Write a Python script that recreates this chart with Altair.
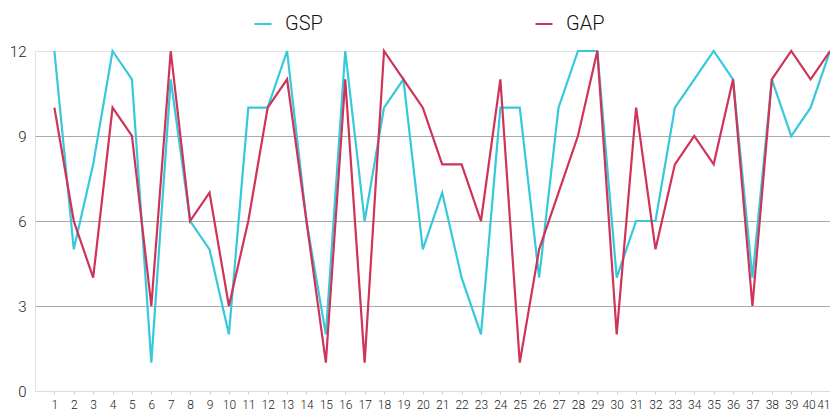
import altair as alt
import pandas as pd

points = list(range(1, 42))
gsp = [12, 5, 8, 12, 11, 1, 11, 6, 5, 2, 10, 10, 12, 6, 2, 12, 6, 10, 11, 5,
       7, 4, 2, 10, 10, 4, 10, 12, 12, 4, 6, 6, 10, 11, 12, 11, 4, 11, 9, 10, 12]
gap = [10, 6, 4, 10, 9, 3, 12, 6, 7, 3, 6, 10, 11, 6, 1, 11, 1, 12, 11, 10,
       8, 8, 6, 11, 1, 5, 7, 9, 12, 2, 10, 5, 8, 9, 8, 11, 3, 11, 12, 11, 12]
series = ["GSP", "GAP"]
colors = ["#36c8db", "#cf3358"]
y_ticks = [0, 3, 6, 9, 12]

rows = []
for name, vals in zip(series, [gsp, gap]):
    for p, v in zip(points, vals):
        rows.append({"x": p, "value": v, "series": name})
df = pd.DataFrame(rows)

font = "Roboto"

chart = alt.Chart(df).mark_line(strokeWidth=2.2).encode(
    x=alt.X("x:Q", scale=alt.Scale(domain=[0, 41], nice=False, zero=False),
            axis=alt.Axis(values=points, title=None, grid=False, labelFontSize=12,
                          labelFont=font, labelFontWeight=300, labelColor="#222",
                          tickSize=3, tickColor="#ccc", domainColor="#ddd",
                          labelPadding=5, labelFlush=True, labelOverlap=False,
                          labelOffset=alt.condition("datum.value == 40",
                                                    alt.value(-2), alt.value(0)))),
    y=alt.Y("value:Q", scale=alt.Scale(domain=[0, 12], nice=False),
            axis=alt.Axis(values=y_ticks, title=None, labelFontSize=15,
                          labelFont=font, labelFontWeight=300, labelColor="#222",
                          ticks=False, domain=False, labelPadding=9,
                          gridColor=alt.condition("datum.value == 0 || datum.value == 12",
                                                  alt.value("#e3e3e3"), alt.value("#aaaaaa")),
                          gridWidth=1)),
    color=alt.Color("series:N", scale=alt.Scale(domain=series, range=colors),
                    sort=series,
                    legend=alt.Legend(title=None, orient="none", direction="horizontal",
                                      legendX=218, legendY=-37, symbolType="stroke",
                                      symbolSize=289, symbolStrokeWidth=2,
                                      labelFontSize=20, labelFont=font, labelFontWeight=300,
                                      labelColor="#111", labelOffset=12,
                                      columnPadding=208)),
    detail="series:N",
).properties(
    width=795, height=340, padding={"left": 27, "top": 43, "right": 0, "bottom": 20},
    autosize=alt.AutoSizeParams(type="none"),
).configure_view(stroke="#e3e3e3")

chart.save("out.html", embed_options={"renderer": "svg", "actions": False})
